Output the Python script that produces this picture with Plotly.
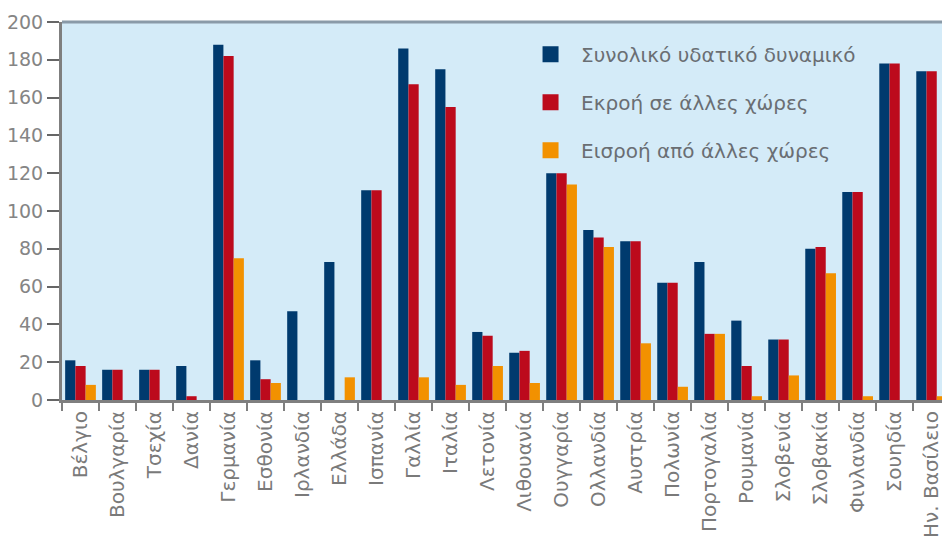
import plotly.graph_objects as go

countries = ["Βέλγιο", "Βουλγαρία", "Τσεχία", "Δανία", "Γερμανία", "Εσθονία",
             "Ιρλανδία", "Ελλάδα", "Ισπανία", "Γαλλία", "Ιταλία", "Λετονία",
             "Λιθουανία", "Ουγγαρία", "Ολλανδία", "Αυστρία", "Πολωνία",
             "Πορτογαλία", "Ρουμανία", "Σλοβενία", "Σλοβακία", "Φινλανδία",
             "Σουηδία", "Ην. Βασίλειο"]

total = [21, 16, 16, 18, 188, 21, 47, 73, 111, 186, 175, 36,
         25, 120, 90, 84, 62, 73, 42, 32, 80, 110, 178, 174]
outflow = [18, 16, 16, 2, 182, 11, 0, 0, 111, 167, 155, 34,
           26, 120, 86, 84, 62, 35, 18, 32, 81, 110, 178, 174]
inflow = [8, 0, 0, 0, 75, 9, 0, 12, 0, 12, 8, 18,
          9, 114, 81, 30, 7, 35, 2, 13, 67, 2, 0, 2]

names = ["Συνολικό υδατικό δυναμικό", "Εκροή σε άλλες χώρες", "Εισροή από άλλες χώρες"]
colors = ["#003A6E", "#BC0A1C", "#F29100"]
series = [total, outflow, inflow]

y_ticks = list(range(0, 201, 20))

fig = go.Figure()
for nm, col, vals in zip(names, colors, series):
    fig.add_trace(go.Bar(x=countries, y=vals, name=nm, marker_color=col,
                         marker_line_width=0, showlegend=False))
for i, (nm, col) in enumerate(zip(names, colors)):
    fig.add_trace(go.Scatter(x=[None], y=[None], mode="markers", name=nm,
                             legendgroup=f"g{i}",
                             marker=dict(symbol="square", size=17, color=col)))

fig.update_layout(
    width=942, height=539,
    margin=dict(l=62, r=0, t=22, b=139),
    paper_bgcolor="white",
    plot_bgcolor="#D4EBF8",
    barmode="group",
    bargap=0.17,
    bargroupgap=0,
    font=dict(family="DejaVu Sans, sans-serif", size=19, color="#777777"),
    legend=dict(x=0.5205, y=0.966, xanchor="left", yanchor="top",
                bgcolor="rgba(0,0,0,0)", font=dict(size=20, color="#6A6E73"),
                tracegroupgap=19, itemwidth=51),
    xaxis=dict(range=[-0.5, 23.28], tickangle=-90, showline=True, linecolor="#7f7f7f",
               linewidth=3, ticks="outside", tickson="boundaries", ticklen=8,
               tickcolor="#7f7f7f", tickwidth=2, showgrid=False, mirror=False,
               tickfont=dict(size=20, color="#7a7a7a")),
    yaxis=dict(range=[0, 200], tickvals=y_ticks, showline=True, linecolor="#7f7f7f",
               linewidth=3, ticks="outside", ticklen=12, tickcolor="#666666",
               tickwidth=2, showgrid=False, zeroline=False,
               tickfont=dict(size=19, color="#858585")),
)
fig.add_shape(type="line", xref="paper", yref="paper", x0=0, x1=1, y0=1, y1=1,
              line=dict(color="#8A9AA8", width=3), layer="above")

fig.write_html("out.html")
